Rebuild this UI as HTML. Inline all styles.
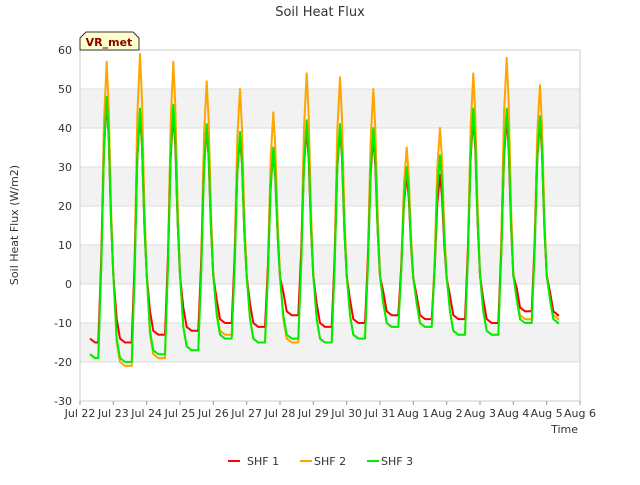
<!DOCTYPE html>
<html><head><meta charset="utf-8"><style>
body{margin:0;background:#fff;font-family:"Liberation Sans","DejaVu Sans",sans-serif}
svg text{font-family:"DejaVu Sans","Liberation Sans",sans-serif}
</style></head><body>
<svg id="chart" width="640" height="480">
<text x="320" y="16" text-anchor="middle" font-size="13" fill="#333">Soil Heat Flux</text>
<g id="bands"></g>
<g id="grid"></g>
<rect x="80" y="50" width="500" height="351" fill="none" stroke="#ccc"/>
<g id="series"></g>
<g id="axes"></g>
<text transform="translate(18,225) rotate(-90)" text-anchor="middle" font-size="11" fill="#333">Soil Heat Flux (W/m2)</text>
<text x="578" y="433" text-anchor="end" font-size="11" fill="#333">Time</text>
<g>
<path d="M80,50 L80,38 L86,32 L133,32 L139,38 L139,50 Z" fill="#ffffcc" stroke="#333"/>
<text x="109" y="46" text-anchor="middle" font-size="11" font-weight="bold" fill="#8b0000">VR_met</text>
</g>
<g>
<g><line x1="228" y1="461" x2="240" y2="461" stroke="#ff0000" stroke-width="2"/><text x="247" y="465" font-size="11" fill="#333">SHF 1</text></g>
<g><line x1="300" y1="461" x2="312" y2="461" stroke="#ffa500" stroke-width="2"/><text x="314" y="465" font-size="11" fill="#333">SHF 2</text></g>
<g><line x1="367" y1="461" x2="379" y2="461" stroke="#00ee00" stroke-width="2"/><text x="381" y="465" font-size="11" fill="#333">SHF 3</text></g>
</g>
</svg>
<script>
const xTickLabels=["Jul 22","Jul 23","Jul 24","Jul 25","Jul 26","Jul 27","Jul 28","Jul 29","Jul 30","Jul 31","Aug 1","Aug 2","Aug 3","Aug 4","Aug 5","Aug 6"];
const yTicks=[-30,-20,-10,0,10,20,30,40,50,60];
const shf1Peaks=[47,44,44,40,38,34,40,40,38,28,28,43,43,42];
const shf1Troughs=[-15,-15,-13,-12,-10,-11,-8,-11,-10,-8,-9,-9,-10,-7];
const shf2Peaks=[57,59,57,52,50,44,54,53,50,35,40,54,58,51];
const shf2Troughs=[-19,-21,-19,-17,-13,-15,-15,-15,-14,-11,-11,-13,-13,-9];
const shf3Peaks=[48,45,46,41,39,35,42,41,40,30,33,45,45,43];
const shf3Troughs=[-19,-20,-18,-17,-14,-15,-14,-15,-14,-11,-11,-13,-13,-10];
const endValues=[-8,-9,-10];
const X=d=>80+d*500/15, Y=v=>50+(60-v)*351/90;
const NS="http://www.w3.org/2000/svg";
function mk(t,a,p){const e=document.createElementNS(NS,t);for(const k in a)e.setAttribute(k,a[k]);p.appendChild(e);return e;}
const bands=document.getElementById('bands'),grid=document.getElementById('grid'),axes=document.getElementById('axes');
[[40,50],[20,30],[0,10],[-20,-10]].forEach(b=>{const r=mk('rect',{x:80,y:Y(b[1]),width:500,height:Y(b[0])-Y(b[1]),fill:'#f2f2f2'},bands);

});
yTicks.forEach(v=>{mk('line',{x1:80,x2:580,y1:Y(v),y2:Y(v),stroke:'#ddd'},grid);
const t=mk('text',{x:72,y:Y(v)+4,'text-anchor':'end','font-size':11,fill:'#333'},axes);t.textContent=v;

});
xTickLabels.forEach((l,i)=>{mk('line',{x1:X(i),x2:X(i),y1:401,y2:405,stroke:'#999'},axes);
const t=mk('text',{x:X(i),y:417,'text-anchor':'middle','font-size':11,fill:'#333'},axes);t.textContent=l;

});
function build(peaks,troughs,endV){
  const pts=[[0.3,troughs[0]+1],[0.45,troughs[0]]];
  for(let d=0;d<peaks.length;d++){
    const p=peaks[d],t=troughs[d],nt=d+1<troughs.length?troughs[d+1]:endV;
    pts.push([d+0.55,t],[d+0.64,t+(p-t)*0.35],[d+0.72,t+(p-t)*0.8],[d+0.8,p],[d+0.86,p*0.8],[d+0.93,p*0.35],[d+1.0,p*0.05],[d+1.1,nt+6],[d+1.2,nt+1],[d+1.35,nt]);
  }
  pts.push([peaks.length+0.3,endV]);return pts;
}
const g=document.getElementById('series');
[[shf2Peaks,shf2Troughs,endValues[1],'#ffa500','series-shf2'],[shf1Peaks,shf1Troughs,endValues[0],'#ff0000','series-shf1'],[shf3Peaks,shf3Troughs,endValues[2],'#00ee00','series-shf3']].forEach(s=>{
  const pts=build(s[0],s[1],s[2]);
  const pl=mk('polyline',{points:pts.map(p=>X(p[0]).toFixed(1)+','+Y(p[1]).toFixed(1)).join(' '),fill:'none',stroke:s[3],'stroke-width':2,'stroke-linejoin':'round'},g);
  
  
});
</script>
</body></html>
